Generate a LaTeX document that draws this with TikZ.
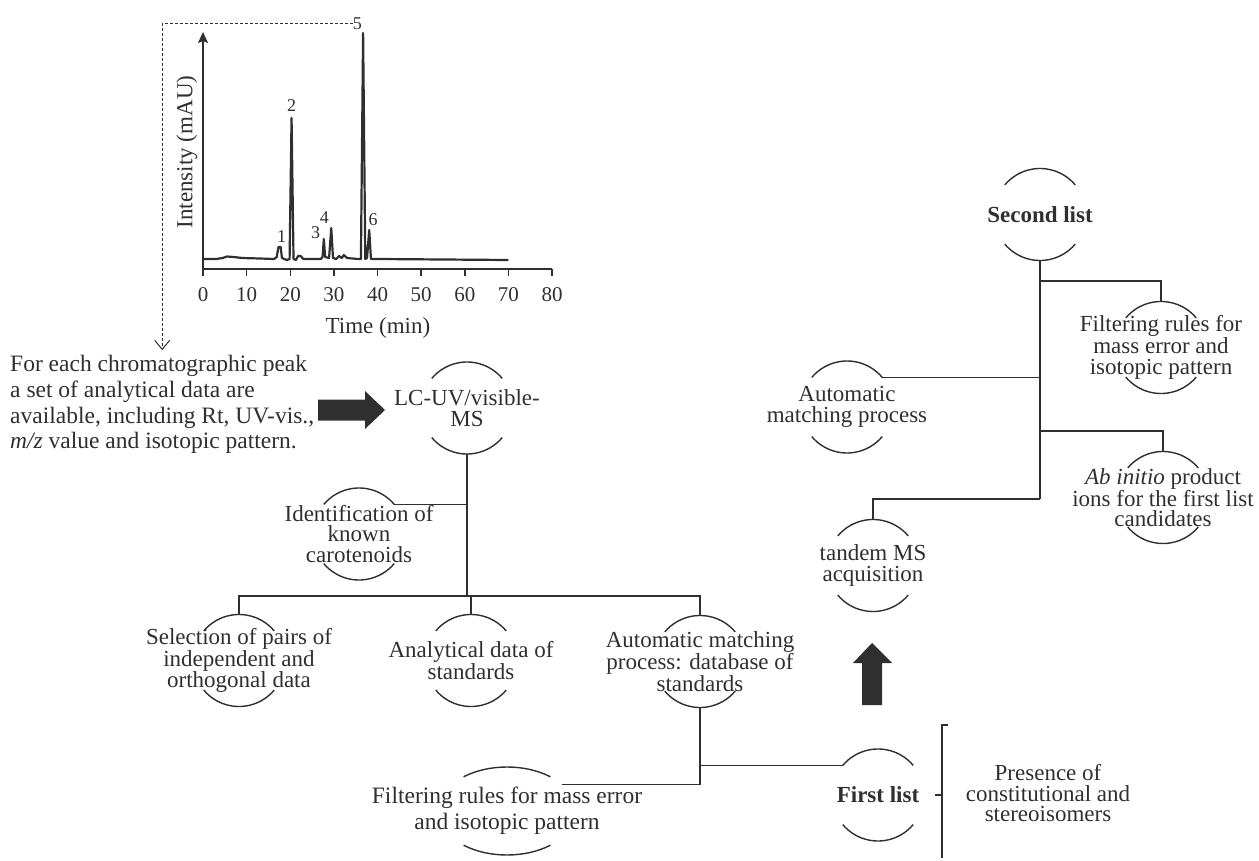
\documentclass[tikz,border=0pt]{standalone}
\usepackage{fontspec}
\setmainfont{Liberation Serif}
\usetikzlibrary{arrows.meta,positioning,calc,shapes.geometric}
\definecolor{cInk}{HTML}{2F2F2F}
\tikzset{
  ln/.style    ={draw=cInk,line width=1.4pt},
  ax/.style    ={draw=cInk,line width=1.5pt},
  trace/.style ={draw=cInk,line width=2.2pt,line join=round},
  ring/.style  ={circle,minimum size=92pt,inner sep=0pt,outer sep=0pt},
  oval/.style  ={ellipse,minimum width=138pt,minimum height=88pt,inner sep=0pt,outer sep=0pt},
  txt/.style   ={align=center,text=cInk,inner sep=0pt,font=\fontsize{23}{20.5}\selectfont},
  wide/.style  ={txt,font=\fontsize{23.5}{25.7}\selectfont},
  dsh/.style   ={draw=cInk,line width=1pt,dash pattern=on 3pt off 2pt},
  bigarr/.style={fill=cInk,draw=none},
  tick/.style  ={text=cInk,inner sep=0pt,font=\fontsize{21}{21}\selectfont},
  pk/.style    ={text=cInk,inner sep=0pt,font=\fontsize{18}{18}\selectfont},
}

\begin{document}
\begin{tikzpicture}[x=1pt,y=1pt]
\useasboundingbox (0,0) rectangle (1259,-861);

% ===== chromatogram =======================================================
\begin{scope}[shift={(203,-269)},x=4.3625pt]
  \draw[ax,-{Stealth[length=11pt,width=10pt,inset=2pt]}] (0,0) -- (0,237);
  \draw[ax] (0,0) -- (80,0);
  \foreach \t in {0,10,...,80}{
    \draw[ax] (\t,0) -- (\t,-7);
    \node[tick] (t\t) at (\t,-26) {\t};
  }
  \draw[trace] plot coordinates {
    (0,10) (3,10) (4.5,11) (5.5,12.5) (7,12) (9,11) (13,10.5) (16.3,10)
    (16.9,12) (17.3,22) (17.8,22) (18.1,11) (19.2,9) (19.85,10) (20.3,151)
    (20.75,10) (21.3,9) (21.8,13) (22.4,13) (23,10) (27,10) (27.4,12)
    (27.7,30) (28.0,12) (28.9,11) (29.4,41) (29.8,11) (30.5,10) (31.2,13)
    (31.8,11) (32.3,14) (33,11) (35.5,10) (36.2,10) (36.7,236) (37.2,10)
    (37.6,11) (38.1,39) (38.5,10) (40,10) (70,9)};
  \node[pk] (p1) at (18.0,32)  {1};
  \node[pk] (p2) at (20.3,163) {2};
  \node[pk] (p3) at (25.8,36)  {3};
  \node[pk] (p4) at (27.8,51)  {4};
  \node[pk] (p5) at (35.4,245) {5};
  \node[pk] (p6) at (39.0,49)  {6};
\end{scope}
\node[txt] (tlab) at (378,-328) {Time (min)};
\node[txt,rotate=90] (ilab) at (187,-152) {Intensity (mAU)};

% ===== peak data and LC-UV/visible-MS =====================================
\node[wide,align=left,anchor=west] (para) at (10,-404.5)
  {For each chromatographic peak\\a set of analytical data are\\
   available, including Rt, UV-vis.,\\\textit{m/z} value and isotopic pattern.};
\draw[dsh,-{Straight Barb[length=9pt,width=15pt]},shorten >=5pt] (p5.west) -| (para.north);
% block arrow, peak data -> LC-UV/visible-MS
\fill[bigarr] (318,-399.5) -- (365,-399.5) -- (365,-391) -- (385,-410)
  -- (365,-429) -- (365,-420.5) -- (318,-420.5) -- cycle;

\node[ring,label={[txt]center:{LC-UV/visible-\\MS}}] (lc) at (467,-408) {};
\node[ring,label={[txt]center:{Identification of\\known\\carotenoids}}] (idn) at (359,-534) {};
\node[ring,label={[txt]center:{Selection of pairs of\\independent and\\orthogonal data}}] (sel) at (239,-660.5) {};
\node[ring,label={[txt]center:{Analytical data of\\standards}}] (ana) at (471,-660.5) {};
\node[ring,label={[txt]center:{Automatic matching\\process: database of\\standards}}] (amd) at (700,-661.5) {};
\node[oval,label={[wide]center:{Filtering rules for mass error\\and isotopic pattern}}] (flt) at (507,-811) {};
\node[ring,label={[txt]center:{\textbf{First list}}}] (fst) at (878,-795) {};
\node[txt] (pres) at (1048,-793.5) {Presence of\\constitutional and\\stereoisomers};

% ===== second list tree ===================================================
\node[ring,label={[txt]center:{\textbf{Second list}}}] (sec) at (1040,-214.5) {};
\node[ring,label={[txt]center:{Filtering rules for\\mass error and\\isotopic pattern}}] (f2) at (1161,-347.5) {};
\node[ring,label={[txt]center:{Automatic\\matching process}}] (amp) at (847,-407) {};
\node[ring,label={[txt]center:{\textit{Ab initio} product\\ions for the first list\\candidates}}] (abi) at (1163,-497.5) {};
\node[ring,label={[txt]center:{tandem MS\\acquisition}}] (tms) at (873,-565.5) {};
% block arrow, first list -> tandem MS
\fill[bigarr] (862,-705) -- (862,-663) -- (853,-663) -- (872,-643)
  -- (892,-663) -- (882,-663) -- (882,-705) -- cycle;

% arcs above and below each label
\foreach \n in {lc,idn,sel,ana,amd,fst,sec,f2,amp,abi,tms}{
  \draw[ln] (\n.40) arc (40:140:46);
  \draw[ln] (\n.220) arc (220:320:46);
}
\draw[ln] (flt.center) ++(51:69 and 44) arc[start angle=51,end angle=129,x radius=69,y radius=44];
\draw[ln] (flt.center) ++(231:69 and 44) arc[start angle=231,end angle=309,x radius=69,y radius=44];

% ===== connectors =========================================================
\coordinate (bus) at (467,-596);
\draw[ln] (lc.south) -- (bus);
\draw[ln] (idn.40) -- (idn.40 -| lc.south);
\draw[ln] (sel.north) -- (sel.north |- bus) -- (amd.north |- bus) -- (amd.north);
\draw[ln] (ana.north) -- (ana.north |- bus);
\draw[ln] (amd.south) |- (fst.140);
\draw[ln] (amd.south) |- (flt.26);

\coordinate (brk) at (942,-795);
\draw[ln] ($(brk)+(6,70)$) -- ($(brk)+(0,70)$) -- ($(brk)+(0,-63)$);
\draw[ln] (brk) -- ++(-7,0);

\coordinate (j1) at (1040,-281);
\coordinate (j3) at (1040,-431);
\coordinate (jT) at (1040,-499);
\draw[ln] (sec.south) -- (jT);
\draw[ln] (f2.north) |- (j1);
\draw[ln] (amp.40) -- (amp.40 -| jT);
\draw[ln] (abi.north) |- (j3);
\draw[ln] (tms.north) |- (jT);
\end{tikzpicture}
\end{document}
